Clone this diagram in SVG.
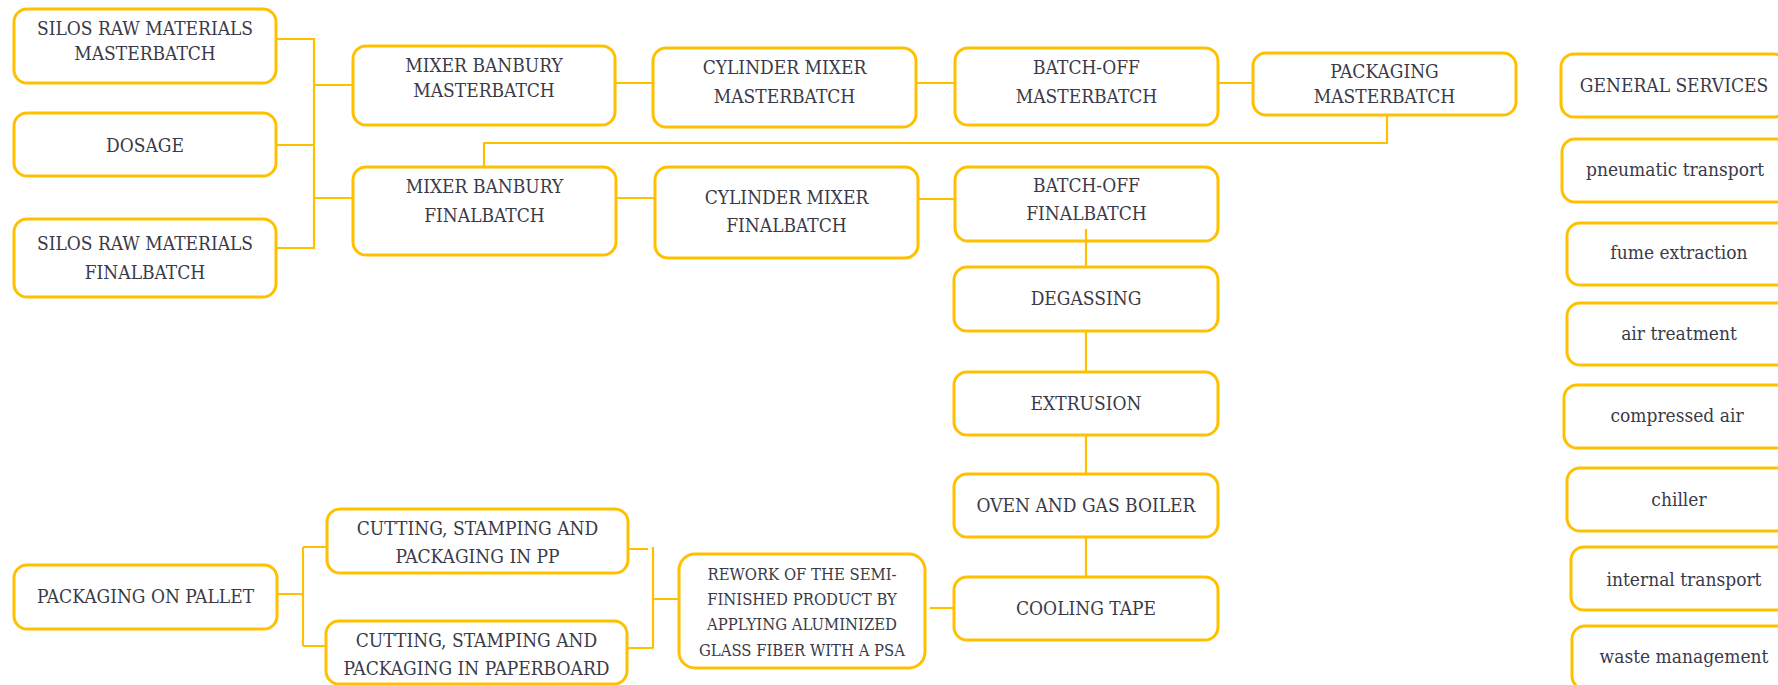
<svg xmlns="http://www.w3.org/2000/svg" width="1778" height="685" viewBox="0 0 1778 685">
<style>
.box{fill:#ffffff;stroke:#FFC000;stroke-width:3;}
.t{font-family:"DejaVu Serif Condensed","DejaVu Serif",serif;font-stretch:condensed;font-size:19px;fill:#3a3a48;text-anchor:middle;}
.s{font-size:16.5px;}
.c{fill:none;stroke:#FFC000;stroke-width:2.2;}
</style>
<rect width="1778" height="685" fill="#ffffff"/>
<g id="connectors">
<path class="c" d="M276 39H314V248H276M276 145H314M314 85H353M314 198H353"/>
<path class="c" d="M615 83H653M916 83H955M1218 83H1253"/>
<path class="c" d="M616 198H655M918 199H955"/>
<path class="c" d="M1387 115V143H484V167"/>
<path class="c" d="M1086 229V268M1086 331V372M1086 435V474M1086 537V577"/>
<path class="c" d="M930 608H954"/>
<path class="c" d="M628 549H648M653 547V648M627 648H653M653 599H679"/>
<path class="c" d="M277 594H303M303 547V646M303 547H327M303 646H327"/>
</g>
<g id="silos-mb"><rect class="box" x="14" y="9" width="262" height="74" rx="13"/><text class="t" x="145" y="35">SILOS RAW MATERIALS</text><text class="t" x="145" y="60">MASTERBATCH</text></g>
<g id="dosage"><rect class="box" x="14" y="113" width="262" height="63" rx="13"/><text class="t" x="145" y="152">DOSAGE</text></g>
<g id="silos-fb"><rect class="box" x="14" y="219" width="262" height="78" rx="13"/><text class="t" x="145" y="250">SILOS RAW MATERIALS</text><text class="t" x="145" y="279">FINALBATCH</text></g>
<g id="mixer-mb"><rect class="box" x="353" y="46" width="262" height="79" rx="13"/><text class="t" x="484" y="72">MIXER BANBURY</text><text class="t" x="484" y="97">MASTERBATCH</text></g>
<g id="cylinder-mb"><rect class="box" x="653" y="48" width="263" height="79" rx="13"/><text class="t" x="784.5" y="74">CYLINDER MIXER</text><text class="t" x="784.5" y="103">MASTERBATCH</text></g>
<g id="batchoff-mb"><rect class="box" x="955" y="48" width="263" height="77" rx="13"/><text class="t" x="1086.5" y="74">BATCH-OFF</text><text class="t" x="1086.5" y="103">MASTERBATCH</text></g>
<g id="packaging-mb"><rect class="box" x="1253" y="53" width="263" height="62" rx="13"/><text class="t" x="1384.5" y="78">PACKAGING</text><text class="t" x="1384.5" y="103">MASTERBATCH</text></g>
<g id="mixer-fb"><rect class="box" x="353" y="167" width="263" height="88" rx="13"/><text class="t" x="484.5" y="193">MIXER BANBURY</text><text class="t" x="484.5" y="222">FINALBATCH</text></g>
<g id="cylinder-fb"><rect class="box" x="655" y="167" width="263" height="91" rx="13"/><text class="t" x="786.5" y="204">CYLINDER MIXER</text><text class="t" x="786.5" y="232">FINALBATCH</text></g>
<g id="batchoff-fb"><rect class="box" x="955" y="167" width="263" height="74" rx="13"/><text class="t" x="1086.5" y="192">BATCH-OFF</text><text class="t" x="1086.5" y="220">FINALBATCH</text></g>
<path class="c" d="M1086 229V241"/>
<g id="degassing"><rect class="box" x="954" y="267" width="264" height="64" rx="13"/><text class="t" x="1086" y="305">DEGASSING</text></g>
<g id="extrusion"><rect class="box" x="954" y="372" width="264" height="63" rx="13"/><text class="t" x="1086" y="410">EXTRUSION</text></g>
<g id="oven"><rect class="box" x="954" y="474" width="264" height="63" rx="13"/><text class="t" x="1086" y="512">OVEN AND GAS BOILER</text></g>
<g id="cooling"><rect class="box" x="954" y="577" width="264" height="63" rx="13"/><text class="t" x="1086" y="615">COOLING TAPE</text></g>
<g id="rework"><rect class="box" x="679" y="554" width="246" height="114" rx="16"/><text class="t s" x="802" y="580">REWORK OF THE SEMI-</text><text class="t s" x="802" y="605">FINISHED PRODUCT BY</text><text class="t s" x="802" y="630">APPLYING ALUMINIZED</text><text class="t s" x="802" y="656">GLASS FIBER WITH A PSA</text></g>
<g id="cutting-pp"><rect class="box" x="327" y="509" width="301" height="64" rx="13"/><text class="t" x="477.5" y="535">CUTTING, STAMPING AND</text><text class="t" x="477.5" y="563">PACKAGING IN PP</text></g>
<g id="cutting-pb"><rect class="box" x="326" y="621" width="301" height="63" rx="13"/><text class="t" x="476.5" y="647">CUTTING, STAMPING AND</text><text class="t" x="476.5" y="675">PACKAGING IN PAPERBOARD</text></g>
<g id="pallet"><rect class="box" x="14" y="565" width="263" height="64" rx="13"/><text class="t" x="145.5" y="603">PACKAGING ON PALLET</text></g>
<g id="general-services"><rect class="box" x="1561" y="54" width="226" height="63" rx="13"/><text class="t" x="1674" y="92">GENERAL SERVICES</text></g>
<g id="pneumatic"><rect class="box" x="1562" y="139" width="226" height="63" rx="13"/><text class="t" x="1675" y="176">pneumatic transport</text></g>
<g id="fume"><rect class="box" x="1567" y="223" width="224" height="62" rx="13"/><text class="t" x="1679" y="259">fume extraction</text></g>
<g id="air"><rect class="box" x="1567" y="303" width="224" height="62" rx="13"/><text class="t" x="1679" y="340">air treatment</text></g>
<g id="compressed"><rect class="box" x="1564" y="385" width="226" height="63" rx="13"/><text class="t" x="1677" y="422">compressed air</text></g>
<g id="chiller"><rect class="box" x="1567" y="468" width="224" height="63" rx="13"/><text class="t" x="1679" y="506">chiller</text></g>
<g id="internal"><rect class="box" x="1571" y="547" width="226" height="63" rx="13"/><text class="t" x="1684" y="586">internal transport</text></g>
<g id="waste"><rect class="box" x="1572" y="626" width="224" height="63" rx="13"/><text class="t" x="1684" y="663">waste management</text></g>
</svg>
